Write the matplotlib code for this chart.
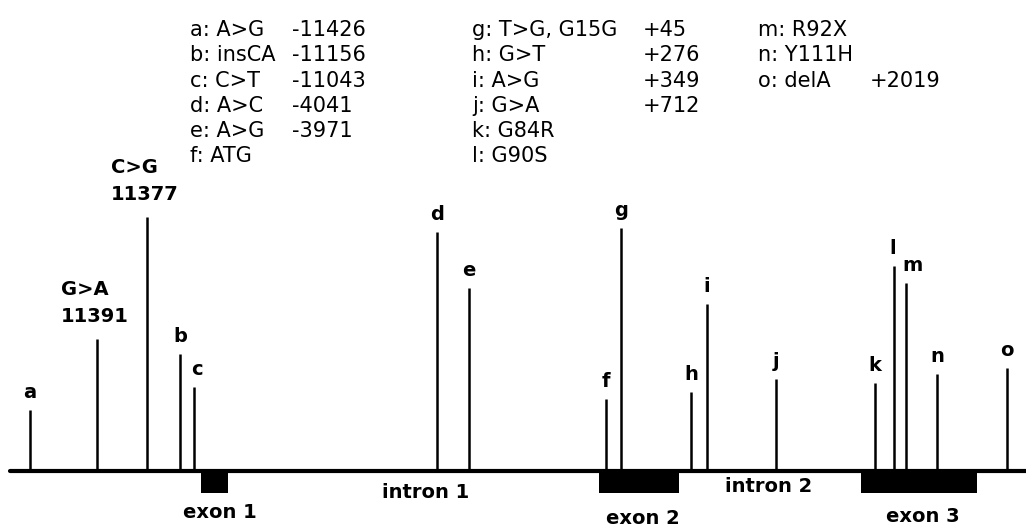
import matplotlib
matplotlib.use("Agg")
import matplotlib.pyplot as plt

# ─────────────────────────────────────────────────────────────
# Data: positions along the gene drawing and line heights
# ─────────────────────────────────────────────────────────────
mut_letters = ['a', 'b', 'c', 'd', 'e', 'f', 'g', 'h', 'i', 'j', 'k', 'l', 'm', 'n', 'o']
mut_pos = [30, 180, 194, 437, 469, 606, 621, 691, 707, 776, 875, 894, 906, 937, 1007]
mut_height = [61, 117, 84, 239, 183, 72, 243, 79, 167, 92, 88, 205, 188, 97, 103]
mut_change = ['A>G', 'insCA', 'C>T', 'A>C', 'A>G', 'ATG', 'T>G, G15G', 'G>T',
              'A>G', 'G>A', 'G84R', 'G90S', 'R92X', 'Y111H', 'delA']
mut_coord = ['-11426', '-11156', '-11043', '-4041', '-3971', '', '+45', '+276',
             '+349', '+712', '', '', '', '', '+2019']

other_pos = [97, 147]
other_height = [132, 254]
other_change = ['G>A', 'C>G']
other_coord = ['11391', '11377']

exon_names = ['exon 1', 'exon 2', 'exon 3']
exon_start = [201, 599, 861]
exon_end = [228, 679, 977]
intron_names = ['intron 1', 'intron 2']

gene_start, gene_end = 10, 1026

# ─────────────────────────────────────────────────────────────
# Layout
# ─────────────────────────────────────────────────────────────
exon_depth = 22
exon_label_dx = [5, 4, 4]
exon_label_y = [-41, -48, -46]
intron_label_x = [426, 769]
intron_label_y = [-22, -16]
letter_dx = {'c': 3, 'm': 7, 'l': -1}
legend_desc_x = [190, 472, 758]
legend_coord_x = [292, 643, 870]
legend_top, legend_step = 441, 25.3

fig = plt.figure(figsize=(10.26, 5.28), dpi=100)
ax = fig.add_axes([0, 0, 1, 1])
ax.set_xlim(0, 1026)
ax.set_ylim(-57, 471)
ax.axis('off')

bold = dict(family='DejaVu Sans', fontweight='bold', fontsize=14, color='black')
plain = dict(family='DejaVu Sans', fontsize=15, color='black')

# gene backbone
ax.plot([gene_start, gene_end], [0, 0], color='black', lw=3, solid_capstyle='round', zorder=3)

# exon boxes
widths = [e - s for s, e in zip(exon_start, exon_end)]
ax.bar(exon_start, [-exon_depth] * 3, width=widths, align='edge', bottom=0,
       color='black', edgecolor='black', linewidth=0, zorder=2)
for i, name in enumerate(exon_names):
    cx = (exon_start[i] + exon_end[i]) / 2 + exon_label_dx[i]
    ax.text(cx, exon_label_y[i], name, ha='center', va='center', **bold)
for x, y, name in zip(intron_label_x, intron_label_y, intron_names):
    ax.text(x, y, name, ha='center', va='center', **bold)

# mutation lines
ax.vlines(mut_pos, 0, mut_height, color='black', lw=1.8, zorder=2)
for x, h, lab in zip(mut_pos, mut_height, mut_letters):
    ax.text(x + letter_dx.get(lab, 0), h + 12, lab, ha='center', va='baseline', **bold)

ax.vlines(other_pos, 0, other_height, color='black', lw=1.8, zorder=2)
for x, h, ch, co in zip(other_pos, other_height, other_change, other_coord):
    ax.text(x - 2, h + 13, f"{ch}\n{co}", ha='center', va='bottom',
            multialignment='left', linespacing=1.55, **bold)

# legend block
for i, (lab, ch, co) in enumerate(zip(mut_letters, mut_change, mut_coord)):
    col = 0 if i < 6 else (1 if i < 12 else 2)
    row = i - (0 if col == 0 else (6 if col == 1 else 12))
    y = legend_top - row * legend_step
    ax.text(legend_desc_x[col], y, f"{lab}: {ch}", ha='left', va='center', **plain)
    if co:
        ax.text(legend_coord_x[col], y, co, ha='left', va='center', **plain)

fig.savefig("out.png", dpi=100, facecolor='white')
